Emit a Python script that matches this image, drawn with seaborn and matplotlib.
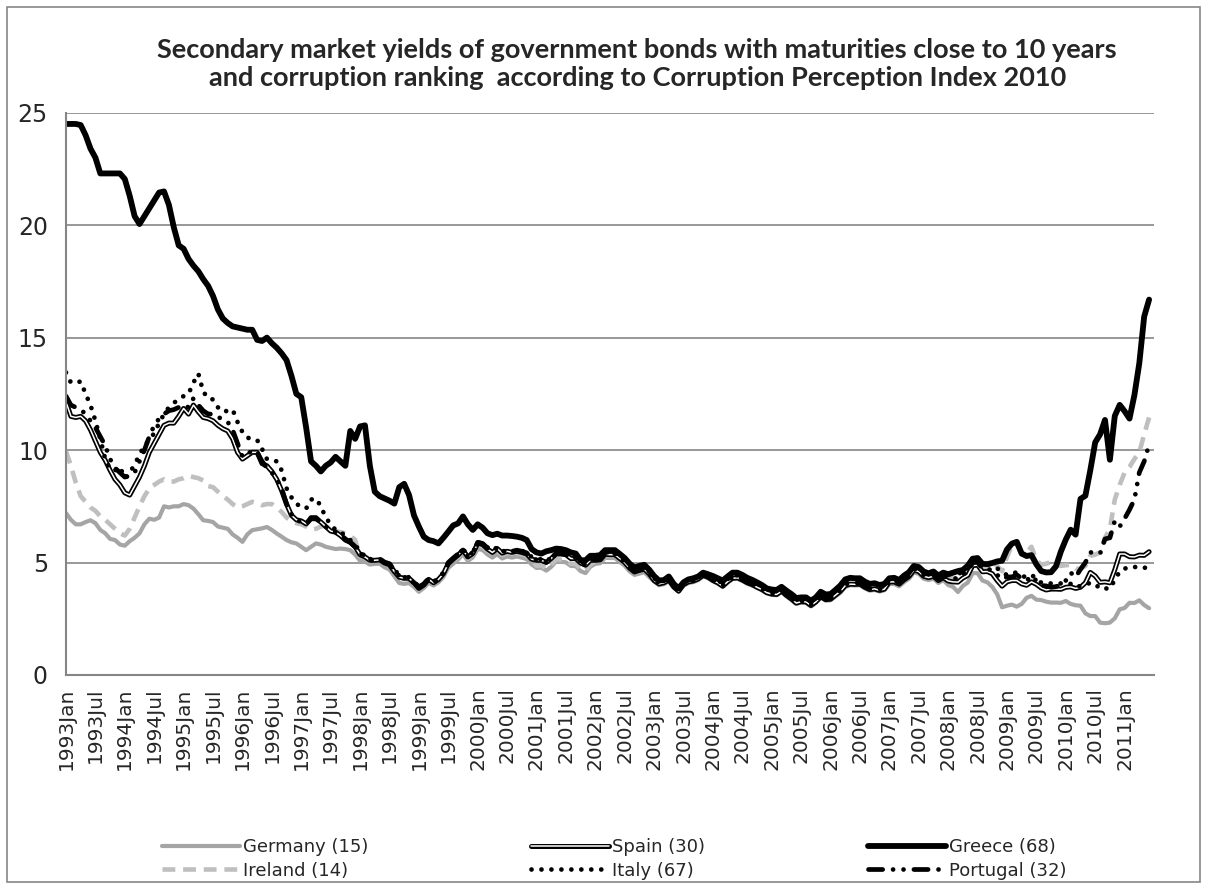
# Bond yields vs corruption ranking chart
import numpy as np
import pandas as pd
import seaborn as sns
import matplotlib.pyplot as plt
import matplotlib.patheffects as pe
from matplotlib.patches import Rectangle

# monthly values, 1993Jan .. 2011Jun (one row per year)
germany = [
    7.20, 6.90, 6.70, 6.70, 6.80, 6.88, 6.75, 6.45, 6.30, 6.05, 6.00, 5.80,
    5.75, 5.95, 6.10, 6.30, 6.70, 6.95, 6.90, 7.00, 7.50, 7.45, 7.50, 7.50,
    7.60, 7.55, 7.40, 7.15, 6.88, 6.85, 6.80, 6.60, 6.55, 6.50, 6.25, 6.10,
    5.92, 6.25, 6.44, 6.48, 6.52, 6.58, 6.45, 6.29, 6.15, 6.00, 5.90, 5.85,
    5.70, 5.55, 5.70, 5.85, 5.80, 5.70, 5.65, 5.60, 5.62, 5.60, 5.55, 5.35,
    5.08, 5.04, 4.91, 4.94, 4.95, 4.79, 4.69, 4.39, 4.09, 4.05, 4.09, 3.92,
    3.70, 3.87, 4.10, 3.98, 4.12, 4.36, 4.76, 4.95, 5.13, 5.38, 5.07, 5.23,
    5.60, 5.56, 5.36, 5.22, 5.37, 5.18, 5.27, 5.22, 5.27, 5.22, 5.15, 4.92,
    4.76, 4.77, 4.64, 4.81, 5.05, 5.03, 5.01, 4.85, 4.84, 4.62, 4.53, 4.82,
    4.94, 4.97, 5.21, 5.20, 5.20, 5.03, 4.86, 4.61, 4.45, 4.51, 4.57, 4.36,
    4.16, 3.99, 4.04, 4.18, 3.88, 3.70, 3.97, 4.09, 4.13, 4.22, 4.39, 4.30,
    4.18, 4.06, 3.92, 4.11, 4.27, 4.28, 4.19, 4.06, 3.98, 3.88, 3.77, 3.63,
    3.56, 3.55, 3.69, 3.50, 3.34, 3.16, 3.22, 3.21, 3.05, 3.21, 3.44, 3.31,
    3.32, 3.49, 3.66, 3.92, 3.99, 3.98, 3.99, 3.85, 3.75, 3.78, 3.71, 3.77,
    4.04, 4.05, 3.94, 4.13, 4.28, 4.56, 4.50, 4.28, 4.22, 4.29, 4.09, 4.22,
    4.00, 3.92, 3.69, 3.96, 4.11, 4.53, 4.53, 4.20, 4.12, 3.92, 3.59, 3.01,
    3.08, 3.13, 3.04, 3.16, 3.43, 3.52, 3.35, 3.33, 3.26, 3.22, 3.22, 3.21,
    3.29, 3.16, 3.10, 3.08, 2.74, 2.62, 2.62, 2.33, 2.30, 2.33, 2.52, 2.92,
    2.98, 3.21, 3.20, 3.32, 3.11, 2.97,
]

spain = [
    12.15, 11.50, 11.45, 11.50, 11.30, 10.90, 10.40, 9.90, 9.55, 9.10, 8.70, 8.45,
    8.10, 8.00, 8.40, 8.80, 9.30, 9.90, 10.30, 10.70, 11.10, 11.20, 11.20, 11.50,
    11.85, 11.60, 12.00, 11.70, 11.45, 11.40, 11.30, 11.10, 10.95, 10.85, 10.50, 9.90,
    9.60, 9.75, 9.90, 9.90, 9.40, 9.30, 9.05, 8.70, 8.20, 7.60, 7.10, 6.90,
    6.85, 6.72, 6.95, 6.95, 6.80, 6.60, 6.40, 6.35, 6.20, 6.00, 5.90, 5.70,
    5.35, 5.25, 5.10, 5.10, 5.12, 4.98, 4.90, 4.60, 4.35, 4.30, 4.30, 4.10,
    3.85, 4.00, 4.25, 4.10, 4.25, 4.50, 4.95, 5.15, 5.33, 5.55, 5.25, 5.40,
    5.85, 5.80, 5.60, 5.45, 5.62, 5.42, 5.50, 5.45, 5.50, 5.45, 5.38, 5.15,
    5.10, 5.10, 5.00, 5.18, 5.38, 5.38, 5.35, 5.18, 5.18, 4.98, 4.88, 5.10,
    5.10, 5.12, 5.37, 5.35, 5.35, 5.18, 5.00, 4.75, 4.58, 4.65, 4.70, 4.50,
    4.20, 4.05, 4.10, 4.22, 3.92, 3.73, 4.02, 4.14, 4.18, 4.27, 4.43, 4.35,
    4.20, 4.10, 3.95, 4.15, 4.30, 4.32, 4.22, 4.10, 4.02, 3.90, 3.80, 3.66,
    3.60, 3.58, 3.73, 3.54, 3.38, 3.20, 3.26, 3.25, 3.09, 3.25, 3.48, 3.35,
    3.37, 3.55, 3.72, 3.97, 4.04, 4.03, 4.04, 3.90, 3.80, 3.83, 3.76, 3.82,
    4.14, 4.14, 4.04, 4.23, 4.38, 4.66, 4.60, 4.39, 4.33, 4.39, 4.20, 4.33,
    4.18, 4.14, 4.13, 4.31, 4.43, 4.86, 4.89, 4.59, 4.60, 4.50, 4.20, 3.95,
    4.14, 4.20, 4.20, 4.05, 3.99, 4.14, 4.03, 3.87, 3.78, 3.82, 3.82, 3.81,
    3.90, 3.92, 3.85, 3.90, 4.10, 4.56, 4.40, 4.12, 4.14, 4.10, 4.68, 5.38,
    5.38, 5.26, 5.25, 5.33, 5.32, 5.48,
]

greece = [
    24.50, 24.50, 24.50, 24.45, 24.00, 23.40, 23.00, 22.30, 22.30, 22.30, 22.30, 22.30,
    22.05, 21.30, 20.40, 20.05, 20.40, 20.75, 21.10, 21.45, 21.50, 20.90, 19.90, 19.10,
    18.95, 18.50, 18.20, 17.95, 17.60, 17.30, 16.85, 16.25, 15.85, 15.65, 15.50, 15.45,
    15.40, 15.35, 15.35, 14.90, 14.85, 15.00, 14.75, 14.55, 14.30, 14.00, 13.30, 12.50,
    12.35, 11.00, 9.50, 9.30, 9.05, 9.30, 9.45, 9.70, 9.50, 9.30, 10.85, 10.50,
    11.05, 11.10, 9.30, 8.15, 7.95, 7.85, 7.75, 7.62, 8.35, 8.50, 8.00, 7.10,
    6.60, 6.15, 6.00, 5.95, 5.85, 6.10, 6.37, 6.65, 6.74, 7.05, 6.70, 6.45,
    6.70, 6.55, 6.30, 6.22, 6.28, 6.20, 6.20, 6.18, 6.15, 6.10, 6.00, 5.60,
    5.45, 5.40, 5.50, 5.55, 5.62, 5.60, 5.55, 5.45, 5.40, 5.10, 5.10, 5.30,
    5.30, 5.33, 5.55, 5.55, 5.55, 5.38, 5.20, 4.95, 4.78, 4.85, 4.90, 4.68,
    4.40, 4.20, 4.22, 4.38, 4.05, 3.85, 4.12, 4.25, 4.30, 4.38, 4.55, 4.48,
    4.40, 4.30, 4.20, 4.38, 4.55, 4.55, 4.45, 4.32, 4.23, 4.12, 4.00, 3.85,
    3.80, 3.78, 3.92, 3.75, 3.60, 3.42, 3.45, 3.45, 3.30, 3.45, 3.70, 3.58,
    3.60, 3.78, 3.98, 4.25, 4.32, 4.30, 4.30, 4.15, 4.05, 4.08, 4.00, 4.05,
    4.30, 4.32, 4.22, 4.42, 4.57, 4.85, 4.80, 4.60, 4.52, 4.60, 4.42, 4.55,
    4.48, 4.55, 4.62, 4.67, 4.86, 5.17, 5.20, 4.94, 4.93, 4.98, 5.05, 5.08,
    5.58, 5.84, 5.92, 5.40, 5.29, 5.33, 4.92, 4.62, 4.56, 4.57, 4.83, 5.49,
    6.02, 6.46, 6.24, 7.83, 7.97, 9.10, 10.34, 10.70, 11.34, 9.57, 11.52, 12.01,
    11.73, 11.40, 12.44, 13.86, 15.94, 16.69,
]

ireland = [
    9.95, 9.30, 8.55, 7.95, 7.70, 7.45, 7.30, 7.05, 6.90, 6.70, 6.50, 6.30,
    6.20, 6.50, 7.00, 7.50, 7.95, 8.30, 8.45, 8.60, 8.70, 8.60, 8.60, 8.70,
    8.75, 8.85, 8.80, 8.75, 8.65, 8.40, 8.35, 8.15, 7.95, 7.80, 7.60, 7.45,
    7.50, 7.60, 7.70, 7.65, 7.55, 7.60, 7.60, 7.45, 7.25, 7.00, 6.85, 6.75,
    6.70, 6.60, 6.45, 6.50, 6.60, 6.65, 6.50, 6.40, 6.35, 6.30, 6.20, 6.00,
    5.28, 5.20, 5.05, 5.05, 5.10, 4.95, 4.85, 4.60, 4.35, 4.28, 4.28, 4.05,
    3.80, 3.97, 4.20, 4.08, 4.22, 4.46, 4.88, 5.07, 5.25, 5.50, 5.18, 5.35,
    5.75, 5.72, 5.52, 5.38, 5.53, 5.33, 5.42, 5.37, 5.42, 5.37, 5.30, 5.07,
    4.86, 4.87, 4.74, 4.91, 5.15, 5.13, 5.11, 4.95, 4.94, 4.72, 4.63, 4.92,
    5.04, 5.07, 5.31, 5.30, 5.30, 5.13, 4.96, 4.71, 4.55, 4.61, 4.67, 4.46,
    4.21, 4.04, 4.09, 4.23, 3.93, 3.75, 4.02, 4.14, 4.18, 4.27, 4.44, 4.35,
    4.21, 4.09, 3.95, 4.14, 4.30, 4.31, 4.22, 4.09, 4.01, 3.91, 3.80, 3.66,
    3.58, 3.57, 3.71, 3.52, 3.36, 3.18, 3.24, 3.23, 3.07, 3.23, 3.46, 3.33,
    3.37, 3.54, 3.71, 3.97, 4.04, 4.03, 4.04, 3.90, 3.80, 3.83, 3.76, 3.82,
    4.14, 4.15, 4.04, 4.23, 4.38, 4.66, 4.60, 4.38, 4.33, 4.40, 4.25, 4.40,
    4.31, 4.32, 4.25, 4.48, 4.60, 4.99, 5.02, 4.74, 4.70, 4.65, 4.85, 4.62,
    5.25, 5.75, 5.80, 5.35, 5.45, 5.70, 5.10, 4.90, 4.95, 5.03, 4.95, 4.85,
    4.88, 4.90, 4.73, 4.72, 4.85, 5.30, 5.35, 5.45, 6.10, 6.50, 7.80, 8.45,
    9.00, 9.25, 9.60, 9.90, 10.70, 11.45,
]

italy = [
    13.45, 13.00, 13.00, 13.05, 12.50, 12.00, 11.30, 10.50, 9.60, 9.15, 9.10, 9.25,
    8.75, 9.00, 9.35, 9.80, 10.20, 10.45, 10.75, 11.20, 11.60, 11.90, 12.10, 12.25,
    12.40, 12.50, 13.00, 13.40, 12.60, 12.30, 12.25, 11.90, 11.70, 11.75, 11.80, 11.25,
    10.80, 10.55, 10.50, 10.45, 10.05, 9.60, 9.55, 9.50, 9.10, 8.30, 7.90, 7.60,
    7.50, 7.40, 7.80, 7.85, 7.50, 7.00, 6.70, 6.45, 6.35, 6.20, 6.00, 5.80,
    5.45, 5.30, 5.12, 5.10, 5.13, 5.02, 4.95, 4.68, 4.45, 4.35, 4.32, 4.08,
    3.88, 4.03, 4.27, 4.12, 4.27, 4.52, 4.95, 5.15, 5.35, 5.58, 5.28, 5.43,
    5.90, 5.85, 5.67, 5.52, 5.68, 5.48, 5.57, 5.50, 5.55, 5.52, 5.45, 5.25,
    5.15, 5.15, 5.05, 5.22, 5.45, 5.45, 5.42, 5.25, 5.25, 5.05, 4.95, 5.20,
    5.20, 5.22, 5.46, 5.45, 5.45, 5.30, 5.12, 4.87, 4.72, 4.80, 4.82, 4.60,
    4.30, 4.13, 4.20, 4.33, 4.03, 3.86, 4.12, 4.25, 4.28, 4.37, 4.55, 4.45,
    4.33, 4.20, 4.08, 4.26, 4.42, 4.43, 4.35, 4.22, 4.13, 4.03, 3.92, 3.78,
    3.71, 3.70, 3.84, 3.68, 3.52, 3.35, 3.43, 3.42, 3.27, 3.42, 3.66, 3.54,
    3.57, 3.74, 3.92, 4.19, 4.26, 4.24, 4.25, 4.10, 4.00, 4.04, 3.96, 4.03,
    4.29, 4.30, 4.20, 4.38, 4.54, 4.83, 4.78, 4.57, 4.53, 4.60, 4.42, 4.55,
    4.49, 4.49, 4.51, 4.56, 4.71, 5.14, 5.12, 4.84, 4.94, 4.88, 4.75, 4.55,
    4.45, 4.55, 4.55, 4.40, 4.35, 4.45, 4.29, 4.10, 4.07, 4.07, 4.07, 4.07,
    4.08, 4.05, 3.90, 3.96, 4.01, 4.10, 4.05, 3.83, 3.85, 3.84, 4.23, 4.60,
    4.74, 4.74, 4.81, 4.75, 4.76, 4.82,
]

portugal = [
    12.40, 12.00, 11.90, 11.80, 11.60, 11.30, 11.00, 10.60, 10.20, 9.60, 9.20, 9.00,
    8.80, 8.85, 9.00, 9.50, 10.00, 10.60, 11.10, 11.40, 11.60, 11.75, 11.80, 11.90,
    12.00, 11.90, 12.30, 12.00, 11.75, 11.60, 11.60, 11.45, 11.40, 11.25, 10.90, 10.30,
    9.70, 9.80, 10.00, 9.90, 9.50, 9.20, 9.00, 8.70, 8.30, 7.60, 7.15, 6.90,
    6.80, 6.70, 7.00, 7.00, 6.80, 6.60, 6.40, 6.35, 6.25, 6.05, 5.90, 5.70,
    5.40, 5.30, 5.15, 5.15, 5.17, 5.02, 4.95, 4.65, 4.40, 4.35, 4.35, 4.15,
    3.92, 4.05, 4.30, 4.15, 4.30, 4.55, 5.00, 5.20, 5.38, 5.60, 5.30, 5.45,
    5.90, 5.85, 5.65, 5.50, 5.67, 5.47, 5.55, 5.50, 5.55, 5.50, 5.43, 5.20,
    5.12, 5.12, 5.02, 5.20, 5.40, 5.40, 5.37, 5.20, 5.20, 5.00, 4.90, 5.12,
    5.14, 5.16, 5.41, 5.39, 5.39, 5.22, 5.04, 4.79, 4.62, 4.69, 4.74, 4.54,
    4.25, 4.09, 4.14, 4.26, 3.96, 3.77, 4.06, 4.18, 4.22, 4.31, 4.47, 4.39,
    4.24, 4.14, 3.99, 4.19, 4.34, 4.36, 4.26, 4.14, 4.06, 3.94, 3.84, 3.70,
    3.63, 3.61, 3.76, 3.57, 3.41, 3.23, 3.29, 3.28, 3.12, 3.28, 3.51, 3.38,
    3.42, 3.60, 3.77, 4.02, 4.09, 4.08, 4.09, 3.95, 3.85, 3.88, 3.81, 3.87,
    4.20, 4.20, 4.10, 4.29, 4.44, 4.72, 4.66, 4.45, 4.39, 4.45, 4.26, 4.39,
    4.32, 4.30, 4.28, 4.48, 4.60, 5.00, 5.02, 4.72, 4.72, 4.65, 4.45, 4.25,
    4.36, 4.36, 4.45, 4.30, 4.19, 4.41, 4.19, 3.98, 3.96, 3.90, 3.93, 4.00,
    4.20, 4.55, 4.35, 4.70, 5.00, 5.45, 5.45, 5.40, 6.05, 6.10, 6.85, 6.60,
    6.95, 7.35, 7.80, 9.00, 9.50, 10.25,
]

months = pd.date_range('1993-01-01', periods=len(germany), freq='MS')
month_labels = [d.strftime('%Y') + d.strftime('%b') for d in months]
idx = np.arange(len(months))

TITLE = ('Secondary market yields of government bonds with maturities close to 10 years\n'
         'and corruption ranking  according to Corruption Perception Index 2010')

sns.set_style('white')
plt.rcParams['font.family'] = ['DejaVu Sans']

fig = plt.figure(figsize=(12.07, 8.85), dpi=100)
ax = fig.add_axes([66/1207, 1 - 675/885, (1154 - 66)/1207, (675 - 112.7)/885])

round_caps = dict(dash_capstyle='round', solid_capstyle='round')

# draw order: light lines first, Greece on top
sns.lineplot(x=idx, y=germany, ax=ax, color='#A5A5A5', lw=3.0, label='Germany (15)')
sns.lineplot(x=idx, y=ireland, ax=ax, color='#BFBFBF', lw=3.3,
             linestyle=(0, (2.8, 1.7)), label='Ireland (14)')
sns.lineplot(x=idx, y=spain, ax=ax, color='white', lw=1.1, label='Spain (30)',
             path_effects=[pe.Stroke(linewidth=3.6, foreground='black'), pe.Normal()])
sns.lineplot(x=idx, y=italy, ax=ax, color='black', lw=3.4,
             linestyle=(0, (0.01, 2.1)), label='Italy (67)', **round_caps)
sns.lineplot(x=idx, y=portugal, ax=ax, color='black', lw=3.4,
             linestyle=(0, (3.0, 2.2, 0.01, 2.2, 0.01, 2.2)), label='Portugal (32)', **round_caps)
sns.lineplot(x=idx, y=greece, ax=ax, color='black', lw=4.2, label='Greece (68)')

if ax.get_legend() is not None:
    ax.get_legend().remove()

grid_col = '#868686'
ax.set_xlim(0, 222)
ax.set_ylim(0, 25)
ax.set_yticks([0, 5, 10, 15, 20, 25])
ax.yaxis.grid(True, color=grid_col, lw=1.2)
ax.xaxis.grid(False)
ax.set_axisbelow(True)
for side in ['top', 'right']:
    ax.spines[side].set_visible(False)
for side in ['left', 'bottom']:
    ax.spines[side].set_color(grid_col)
    ax.spines[side].set_linewidth(1.5)

ax.set_xticks(idx[::6])
ax.set_xticklabels(month_labels[::6], rotation=90, fontsize=14.5)
ax.set_xticks(idx, minor=True)
ax.tick_params(axis='x', which='both', length=4, width=1, color=grid_col, pad=5)
ax.tick_params(axis='y', length=6, width=1.2, color=grid_col, pad=7, labelsize=17)
ax.set_xlabel('')
ax.set_ylabel('')

fig.text(0.528, 1 - 64/885, TITLE, ha='center', va='center', fontsize=19.5,
         fontweight='bold', family='Lato', linespacing=1.2)

# legend laid out in two rows of three
handles, labels = ax.get_legend_handles_labels()
order = ['Germany (15)', 'Ireland (14)', 'Spain (30)', 'Italy (67)', 'Greece (68)', 'Portugal (32)']
hmap = dict(zip(labels, handles))
fig.legend([hmap[k] for k in order], order, loc='center', ncol=3,
           bbox_to_anchor=(0.509, 1 - 859/885), frameon=False, fontsize=13,
           handlelength=4.3, handletextpad=0.2, columnspacing=9.0,
           labelspacing=0.3)

# outer chart border
fig.patches.append(Rectangle((7/1207, 3/885), 1193/1207, 875/885, transform=fig.transFigure,
                             fill=False, edgecolor=grid_col, lw=1.2))

fig.savefig('out.png', dpi=100)
